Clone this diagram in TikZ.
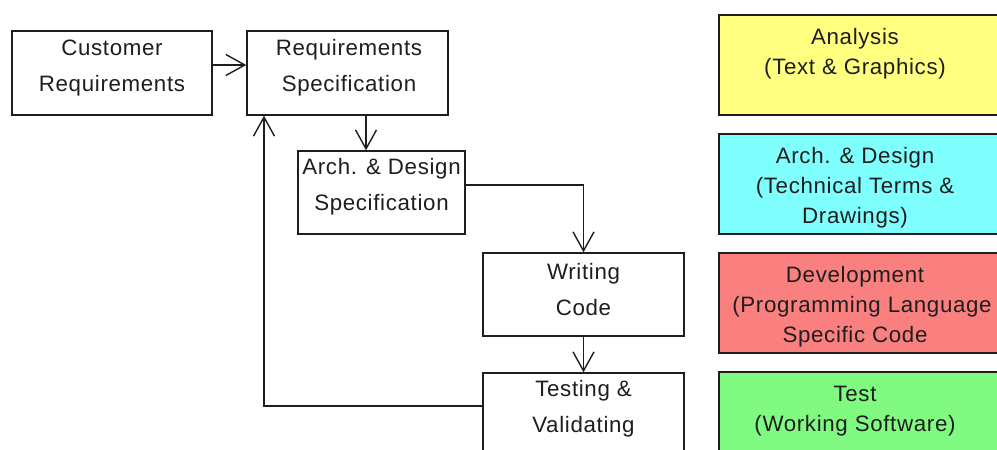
\documentclass[tikz,border=0pt]{standalone}
\usepackage{fontspec}
\setmainfont[LetterSpace=3]{Liberation Sans}
\usetikzlibrary{arrows.meta,calc}
\definecolor{anayellow}{RGB}{255,255,128}
\definecolor{arccyan}{RGB}{128,255,255}
\definecolor{devred}{RGB}{250,128,128}
\definecolor{tstgreen}{RGB}{128,250,128}
\definecolor{linecol}{RGB}{30,30,30}
\begin{document}
\begin{tikzpicture}[x=1pt,y=-1pt,
  box/.style={draw=linecol, line width=1.4pt, inner sep=0pt},
  ltxt/.style={font=\fontsize{22.3}{36}\selectfont, text=linecol, align=center, inner sep=0pt},
  rtxt/.style={font=\fontsize{22.3}{30}\selectfont, text=linecol, align=center, inner sep=0pt},
  conn/.style={draw=linecol, line width=1.4pt, -{Straight Barb[length=19pt,width=21pt]}},
]
\useasboundingbox (0,0) rectangle (997,450);
\fill[white] (0,0) rectangle (997,450);
\begin{scope}
\clip (0,0) rectangle (997,450);
% process boxes
\node[box, minimum width=200pt, minimum height=84pt] (cr) at (112,73) {};
\node[box, minimum width=201pt, minimum height=84pt] (rs) at (347.5,73) {};
\node[box, minimum width=167pt, minimum height=83pt] (ad) at (381.5,192.5) {};
\node[box, minimum width=201pt, minimum height=83pt] (wc) at (583.5,294.5) {};
\node[box, minimum width=201pt, minimum height=90pt] (tv) at (583.5,418) {};
% phase boxes
\node[box, fill=anayellow, minimum width=283pt, minimum height=100pt] (pa) at (860.5,65) {};
\node[box, fill=arccyan, minimum width=283pt, minimum height=100pt] (pd) at (860.5,184) {};
\node[box, fill=devred, minimum width=283pt, minimum height=100pt] (pv) at (860.5,303) {};
\node[box, fill=tstgreen, minimum width=283pt, minimum height=100pt] (pt) at (860.5,422) {};
% texts
\node[ltxt] (crt) at (112,68) {Customer\\Requirements};
\node[ltxt] (rst) at (349,68) {Requirements\\Specification};
\node[ltxt] (adt) at (381.5,187) {Arch. \& Design\\Specification};
\node[ltxt] (wct) at (583.5,290) {Writing\\Code};
\node[ltxt] (tvt) at (583.5,409) {Testing \&\\Validating};
\node[rtxt] (pat) at (855,54) {Analysis\\(Text \& Graphics)};
\node[rtxt] (pdt) at (855,188) {Arch. \& Design\\(Technical Terms \&\\Drawings)};
\node[rtxt] (pvt) at (855,307) {Development\\\hspace*{14pt}(Programming Language\\Specific Code};
\node[rtxt] (ptt) at (855,411) {Test\\(Working Software)};
% connectors
\draw[conn] (cr.east |- 0,65) -- (rs.west |- 0,65);
\draw[conn] (rs.south -| 366,0) -- (ad.north -| 366,0);
\draw[conn] (ad.east |- 0,185) -| (wc.north);
\draw[conn] (wc.south) -- (tv.north);
\draw[conn] (tv.west |- 0,406) -| (rs.south -| 264,0);
\end{scope}
\end{tikzpicture}
\end{document}
